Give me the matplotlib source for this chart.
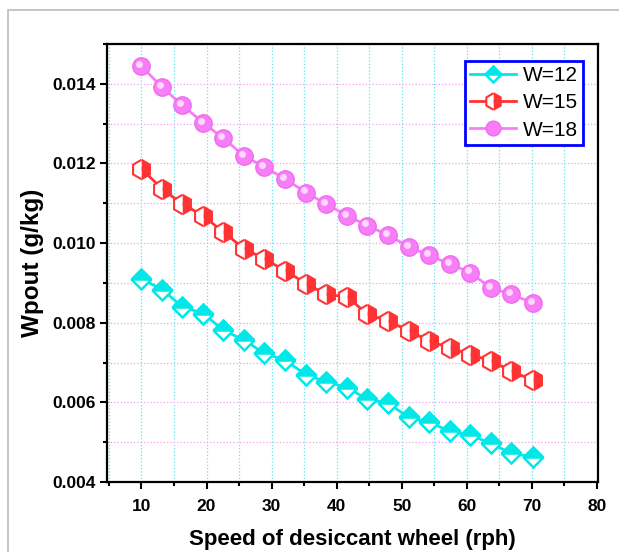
import matplotlib.pyplot as plt
import matplotlib.transforms as mtransforms
from matplotlib.patches import Rectangle
from matplotlib.ticker import MultipleLocator

plt.rcParams['font.family'] = ['Liberation Sans', 'DejaVu Sans']

# speed of desiccant wheel (rph)
speed = [10, 13.2, 16.3, 19.5, 22.6, 25.8, 28.9, 32.1, 35.3, 38.4,
         41.6, 44.7, 47.9, 51.1, 54.2, 57.4, 60.5, 63.7, 66.8, 70.2]

w12 = [0.00910, 0.00883, 0.00840, 0.00823, 0.00781, 0.00756, 0.00723, 0.00706, 0.00669, 0.00652,
       0.00637, 0.00608, 0.00598, 0.00562, 0.00551, 0.00527, 0.00518, 0.00497, 0.00472, 0.00463]
w15 = [0.01186, 0.01136, 0.01098, 0.01069, 0.01027, 0.00986, 0.00960, 0.00931, 0.00898, 0.00871,
       0.00865, 0.00822, 0.00804, 0.00780, 0.00754, 0.00737, 0.00720, 0.00705, 0.00678, 0.00656]
w18 = [0.01444, 0.01391, 0.01346, 0.01302, 0.01263, 0.01219, 0.01191, 0.01161, 0.01127, 0.01098,
       0.01069, 0.01044, 0.01020, 0.00991, 0.00969, 0.00948, 0.00926, 0.00888, 0.00871, 0.00850]

fig = plt.figure(figsize=(6.19, 5.52), dpi=100)
# gray frame around the figure
fig.patches.append(Rectangle((8 / 619, -0.1), 1.2, 1 - 10 / 552 + 0.1, transform=fig.transFigure,
                             fill=False, edgecolor='#bbbbbb', linewidth=1.2))
ax = fig.add_axes([107 / 619, 1 - 482 / 552, 490.5 / 619, 438 / 552])

ax.plot(speed, w12, color='#00e8e8', lw=2, marker='D', ms=10, fillstyle='top',
        markerfacecolor='#00e8e8', markerfacecoloralt='white', markeredgecolor='#00e8e8',
        markeredgewidth=1.8, label='W=12', zorder=3)
ax.plot(speed, w15, color='#ff3333', lw=2, marker='h', ms=14, fillstyle='right',
        markerfacecolor='#ff3333', markerfacecoloralt='white', markeredgecolor='#ff3333',
        markeredgewidth=1.5, label='W=15', zorder=3)
ax.plot(speed, w18, color='#f77ef7', lw=2, marker='o', ms=12.5,
        markerfacecolor='#f77ef7', markeredgecolor='#f06cf0', label='W=18', zorder=3)
# highlight on the spheres
shift = mtransforms.offset_copy(ax.transData, fig=fig, x=-1.5, y=1.5, units='points')
ax.plot(speed, w18, ls='none', marker='o', ms=5, color='#ffd6ff', markeredgewidth=0,
        transform=shift, zorder=4)

ax.set_xlim(4.7, 80.1)
ax.set_ylim(0.004, 0.015)
ax.xaxis.set_major_locator(MultipleLocator(10))
ax.xaxis.set_minor_locator(MultipleLocator(5))
ax.yaxis.set_major_locator(MultipleLocator(0.002))
ax.yaxis.set_minor_locator(MultipleLocator(0.001))
ax.set_yticks([0.004, 0.006, 0.008, 0.010, 0.012, 0.014])
ax.set_xticks([10, 20, 30, 40, 50, 60, 70, 80])

ax.grid(which='both', axis='x', color='#5ee6ee', linestyle=':', linewidth=0.9)
ax.grid(which='both', axis='y', color='#f0a0f0', linestyle=':', linewidth=0.9)
ax.set_axisbelow(True)

for s in ax.spines.values():
    s.set_linewidth(1.6)
ax.tick_params(which='major', direction='out', length=5, width=1.5, labelsize=12.5)
ax.tick_params(which='minor', direction='out', length=3, width=1.5)
ax.tick_params(axis='x', which='major', pad=7)
ax.tick_params(axis='y', which='major', pad=3)
for lab in ax.get_xticklabels() + ax.get_yticklabels():
    lab.set_fontweight('bold')

ax.set_xlabel('Speed of desiccant wheel (rph)', fontsize=16, fontweight='bold', labelpad=11)
ax.set_ylabel('Wpout (g/kg)', fontsize=17.5, fontweight='bold', labelpad=6)

leg = ax.legend(loc='upper right', bbox_to_anchor=(0.97, 0.962), fontsize=15, fancybox=False,
                framealpha=1, edgecolor='#0000ff', borderpad=0.25, handlelength=2.2,
                handletextpad=0.3, labelspacing=0.4, borderaxespad=0, markerscale=0.85)
leg.get_frame().set_linewidth(2)

fig.savefig('out.png', dpi=100)
